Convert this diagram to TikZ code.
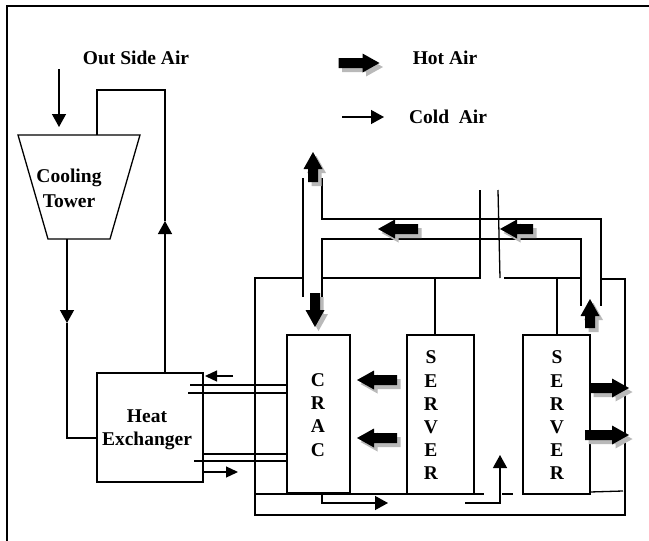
\documentclass[tikz,border=0pt]{standalone}
\usepackage{fontspec}
\setmainfont{Liberation Serif}
\usetikzlibrary{arrows.meta}
\newcommand\hotshp[1]{({-#1/2},-5) -- ({#1/2-17},-5) -- ({#1/2-17},-9.5) -- ({#1/2},0) -- ({#1/2-17},9.5) -- ({#1/2-17},5) -- ({-#1/2},5) -- cycle}
\begin{document}
\begin{tikzpicture}[x=1pt,y=-1pt,line width=1.3pt,
  lbl/.style={font=\fontsize{19.5}{23.2}\selectfont\bfseries,inner sep=0pt,align=center},
  box/.style={draw,line width=1.3pt,inner sep=0pt},
  cold/.style={-{Triangle[length=13pt,width=14pt]}},
  coldsm/.style={-{Triangle[length=12pt,width=11pt]}},
  pics/hot/.style n args={2}{code={
    \fill[gray!55,shift={(3.5,4)},rotate=#2] \hotshp{#1};
    \fill[black,rotate=#2] \hotshp{#1};
  }}
]
\useasboundingbox (0,0) rectangle (649,541);
% frame
\draw[line width=2pt] (7,541) -- (7,6) -- (649,6);

% legend and titles
\node[lbl] (osa) at (136,58) {Out Side Air};
\node[lbl] (hotlbl) at (445,58) {Hot Air};
\node[lbl] (coldlbl) at (448,117) {Cold~~Air};
\pic at (359,63) {hot={41}{0}};
\coordinate (cl0) at (342,117);
\coordinate (cl1) at (384,117);
\draw[cold] (cl0) -- (cl1);

% cooling tower
\draw (18,135) -- (140,135) -- (110,239) -- (48,239) -- cycle;
\node[lbl,font=\fontsize{19.5}{25}\selectfont\bfseries] (tower) at (69,188) {Cooling\\Tower};
\coordinate (oa0) at (59,69);
\coordinate (oa1) at (59,127);
\draw[cold] (oa0) -- (oa1);

% heat exchanger
\node[box,minimum width=106,minimum height=109] (he) at (150,427.5) {};
\node[lbl] (hetext) at (147,430) {Heat\\Exchanger};

% pipes tower <-> HE
\coordinate (tt) at (97,135);
\coordinate (t1) at (97,90);
\coordinate (t2) at (165,90);
\coordinate (ta) at (165,221);
\coordinate (heT) at (165,373);
\draw[cold] (heT) -- (ta);
\draw (ta) -- (t2) -- (t1) -- (tt);
\coordinate (tb) at (67,239);
\coordinate (tbA) at (67,323);
\coordinate (tb2) at (67,438);
\coordinate (heL) at (97,438);
\draw[cold] (tb) -- (tbA);
\draw (tbA) -- (tb2) -- (heL);

% CRAC and servers
\node[box,minimum width=63,minimum height=158] (crac) at (318.5,414) {};
\node[lbl] (cractext) at (318,415) {C\\R\\A\\C};
\node[box,minimum width=67,minimum height=159] (s1) at (440.5,414.5) {};
\node[lbl] (s1text) at (431,415.5) {S\\E\\R\\V\\E\\R};
\node[box,minimum width=67,minimum height=159] (s2) at (556.5,414.5) {};
\node[lbl] (s2text) at (557,415.5) {S\\E\\R\\V\\E\\R};

% room enclosure
\draw (303,278) -- (255,278) -- (255,515) -- (625,515) -- (625,279) -- (601,279);
\draw (322,278) -- (480,278) -- (480,190);
\draw (498,190) -- (500,278);
\draw (504,278) -- (581,278);
% floor
\draw (255,494) -- (484,494);
\draw (502,494) -- (513,494);
\draw (590,492) -- (623,491);
% server risers
\draw (435,279) -- (435,335);
\draw (557,279) -- (557,335);

% ducts
\draw (303,178) -- (303,297);
\draw (322,178) -- (322,219) -- (601,219) -- (601,306);
\draw (322,297) -- (322,239) -- (581,239) -- (581,306);

% HE <-> CRAC lines
\draw (190,385) -- (287,385);
\draw (188,393) -- (287,393);
\draw (203,454) -- (287,454);
\draw (194,461) -- (287,461);
\coordinate (ha0) at (233,376);
\coordinate (ha1) at (205,376);
\draw[coldsm] (ha0) -- (ha1);
\coordinate (hb0) at (203,472);
\coordinate (hb1) at (238,472);
\draw[coldsm] (hb0) -- (hb1);

% under-floor cold air
\coordinate (f0) at (322,494);
\coordinate (f1) at (322,503);
\coordinate (f2) at (388,503);
\draw[cold] (f0) -- (f1) -- (f2);
\coordinate (g0) at (465,503);
\coordinate (g1) at (500,503);
\coordinate (g2) at (500,455);
\draw[cold] (g0) -- (g1) -- (g2);

% hot air arrows
\pic at (313,167) {hot={30}{90}};
\pic at (315,310) {hot={34}{-90}};
\pic at (398,229) {hot={40}{180}};
\pic at (516.5,229) {hot={33}{180}};
\pic at (377,380) {hot={40}{180}};
\pic at (377,438) {hot={40}{180}};
\pic at (609.5,388) {hot={39}{0}};
\pic at (607,435) {hot={44}{0}};
\pic at (590,313.5) {hot={29}{90}};
\end{tikzpicture}
\end{document}
